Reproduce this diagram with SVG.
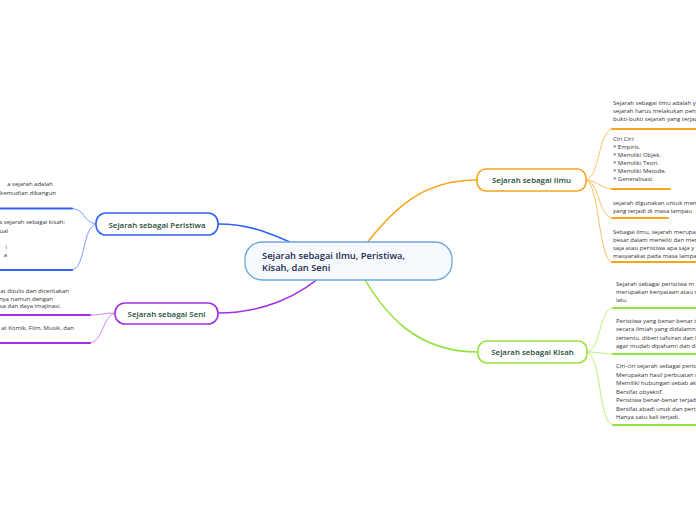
<svg xmlns="http://www.w3.org/2000/svg" width="696" height="520" viewBox="0 0 696 520">
<style>
.bg{fill:#ffffff}
.t{font-family:"Open Sans","Noto Sans","DejaVu Sans",sans-serif;font-size:6px;fill:#333333}
.nt{font-family:"Open Sans","Noto Sans","DejaVu Sans",sans-serif;font-size:7.9px;font-weight:600;fill:#1d4a33;text-anchor:middle}
.ct{font-family:"Open Sans","Noto Sans","DejaVu Sans",sans-serif;font-size:9.4px;font-weight:600;fill:#1c2b4f}
.e{text-anchor:end}
.main{fill:none;stroke-width:1.6;stroke-linecap:round}
.sub{fill:none;stroke-width:1;stroke-linecap:round}
.ul{fill:none;stroke-width:2;stroke-linecap:round}
.orange{stroke:#f7a51e}
.orangeL{stroke:#fbc067}
.green{stroke:#94e33c}
.greenL{stroke:#bdf07f}
.blue{stroke:#2f63f5}
.blueL{stroke:#7a9cff}
.purple{stroke:#a22fe6}
.purpleL{stroke:#cc85f5}
</style>
<rect class="bg" x="0" y="0" width="696" height="520"/>
<g id="connectors">
  <path class="main blue" d="M218,224 C250,224 270,232 320,256"/>
  <path class="main orange" d="M360,252 C395,205 425,180 477,180"/>
  <path class="main green" d="M355,262 C385,320 420,352 478,352"/>
  <path class="main purple" d="M330,268 C300,298 260,313 218,313"/>
  <path class="sub orangeL" d="M586,180 C600,178 598,131 612,129"/>
  <path class="sub orangeL" d="M586,180 C598,181 600,188 612,189"/>
  <path class="sub orangeL" d="M586,180 C600,182 598,216 612,218"/>
  <path class="sub orangeL" d="M586,180 C600,184 598,260 612,262"/>
  <path class="sub greenL" d="M587,352 C602,349 598,310 613,308"/>
  <path class="sub greenL" d="M587,352 C600,352 602,354 613,354"/>
  <path class="sub greenL" d="M587,352 C602,356 598,423 613,425"/>
  <path class="sub blueL" d="M96,224 C82,222 86,209 72,208.5"/>
  <path class="sub blueL" d="M96,224 C82,227 86,268 72,270"/>
  <path class="sub purpleL" d="M115,313 C104,313 102,315 90,315"/>
  <path class="sub purpleL" d="M115,313 C102,316 104,341 90,343"/>
</g>
<g id="central">
  <rect x="245" y="242" width="207" height="38" rx="17" fill="#f6fafe" stroke="#6ea9dc" stroke-width="1.3"/>
  <text class="ct" x="262" y="258.5">Sejarah sebagai Ilmu, Peristiwa,</text>
  <text class="ct" x="262" y="270.5">Kisah, dan Seni</text>
</g>
<g id="ilmu">
  <rect x="477" y="169" width="109" height="22" rx="9" fill="#ffffff" stroke="#f7a51e" stroke-width="1.6"/>
  <text class="nt" x="531.5" y="183">Sejarah sebagai Ilmu</text>
</g>
<g id="ilmu-1">
  <text class="t" x="613" y="105">Sejarah sebagai ilmu adalah y</text>
  <text class="t" x="613" y="113">sejarah harus melakukan peny</text>
  <text class="t" x="613" y="121">bukti-bukti sejarah yang terjad</text>
  <path class="ul orange" d="M612,129 H697"/>
</g>
<g id="ilmu-2">
  <text class="t" x="613" y="141">Ciri Ciri:</text>
  <text class="t" x="613" y="149">* Empiris.</text>
  <text class="t" x="613" y="157">* Memiliki Objek.</text>
  <text class="t" x="613" y="165">* Memiliki Teori.</text>
  <text class="t" x="613" y="173">* Memiliki Metode.</text>
  <text class="t" x="613" y="181">* Generalisasi.</text>
  <path class="ul orange" d="M612,189 H670"/>
</g>
<g id="ilmu-3">
  <text class="t" x="613" y="205">sejarah digunakan untuk mene</text>
  <text class="t" x="613" y="213">yang terjadi di masa lampau</text>
  <path class="ul orange" d="M612,218 H668"/>
</g>
<g id="ilmu-4">
  <text class="t" x="613" y="234">Sebagai ilmu, sejarah merupa</text>
  <text class="t" x="613" y="242">besar dalam meneliti dan mer</text>
  <text class="t" x="613" y="250">saja atau peristiwa apa saja y</text>
  <text class="t" x="613" y="258">masyarakat pada masa lampa</text>
  <path class="ul orange" d="M612,262 H697"/>
</g>
<g id="kisah">
  <rect x="478" y="341" width="109" height="22" rx="9" fill="#ffffff" stroke="#94e33c" stroke-width="1.6"/>
  <text class="nt" x="532.5" y="355">Sejarah sebagai Kisah</text>
</g>
<g id="kisah-1">
  <text class="t" x="616" y="286">Sejarah sebagai peristiwa m</text>
  <text class="t" x="616" y="294">merupakan kenyataan atau r</text>
  <text class="t" x="616" y="302">lalu.</text>
  <path class="ul green" d="M613,308 H697"/>
</g>
<g id="kisah-2">
  <text class="t" x="616" y="323">Peristiwa yang benar-benar t</text>
  <text class="t" x="616" y="331">secara ilmiah yang didalamn</text>
  <text class="t" x="616" y="339.5">tertentu, diberi tafsiran dan k</text>
  <text class="t" x="616" y="348">agar mudah dipahami dan di</text>
  <path class="ul green" d="M613,354 H697"/>
</g>
<g id="kisah-3">
  <text class="t" x="616" y="368">Ciri-ciri sejarah sebagai peris</text>
  <text class="t" x="616" y="376.5">Merupakan hasil perbuatan m</text>
  <text class="t" x="616" y="385">Memiliki hubungan sebab ak</text>
  <text class="t" x="616" y="393.5">Bersifat obyektif.</text>
  <text class="t" x="616" y="402">Peristiwa benar-benar terjad</text>
  <text class="t" x="616" y="410.5">Bersifat abadi unuk dan pert</text>
  <text class="t" x="616" y="419">Hanya satu kali terjadi.</text>
  <path class="ul green" d="M613,425 H697"/>
</g>
<g id="peristiwa">
  <rect x="96" y="213" width="122" height="22" rx="10" fill="#ffffff" stroke="#2f63f5" stroke-width="1.6"/>
  <text class="nt" x="157" y="227.5">Sejarah sebagai Peristiwa</text>
</g>
<g id="peristiwa-1">
  <text class="t e" x="53" y="186">a sejarah adalah</text>
  <text class="t e" x="56" y="195">kemudian dibangun</text>
  <path class="ul blue" d="M-1,208.5 H72"/>
</g>
<g id="peristiwa-2">
  <text class="t e" x="65" y="224">s sejarah sebagai kisah:</text>
  <text class="t e" x="8" y="232.5">ual</text>
  <text class="t e" x="7" y="249">i</text>
  <text class="t e" x="7" y="257">a</text>
  <path class="ul blue" d="M-1,270 H72"/>
</g>
<g id="seni">
  <rect x="115" y="303" width="103" height="21" rx="10" fill="#ffffff" stroke="#a22fe6" stroke-width="1.6"/>
  <text class="nt" x="166.5" y="316.5">Sejarah sebagai Seni</text>
</g>
<g id="seni-1">
  <text class="t e" x="69" y="293">at ditulis dan diceritakan</text>
  <text class="t e" x="53" y="300.5">nya namun dengan</text>
  <text class="t e" x="61" y="308">sa dan daya imajinasi.</text>
  <path class="ul purple" d="M-1,315 H90"/>
</g>
<g id="seni-2">
  <text class="t e" x="74" y="330">at Komik, Film, Musik, dan</text>
  <path class="ul purple" d="M-1,343 H90"/>
</g>
</svg>
